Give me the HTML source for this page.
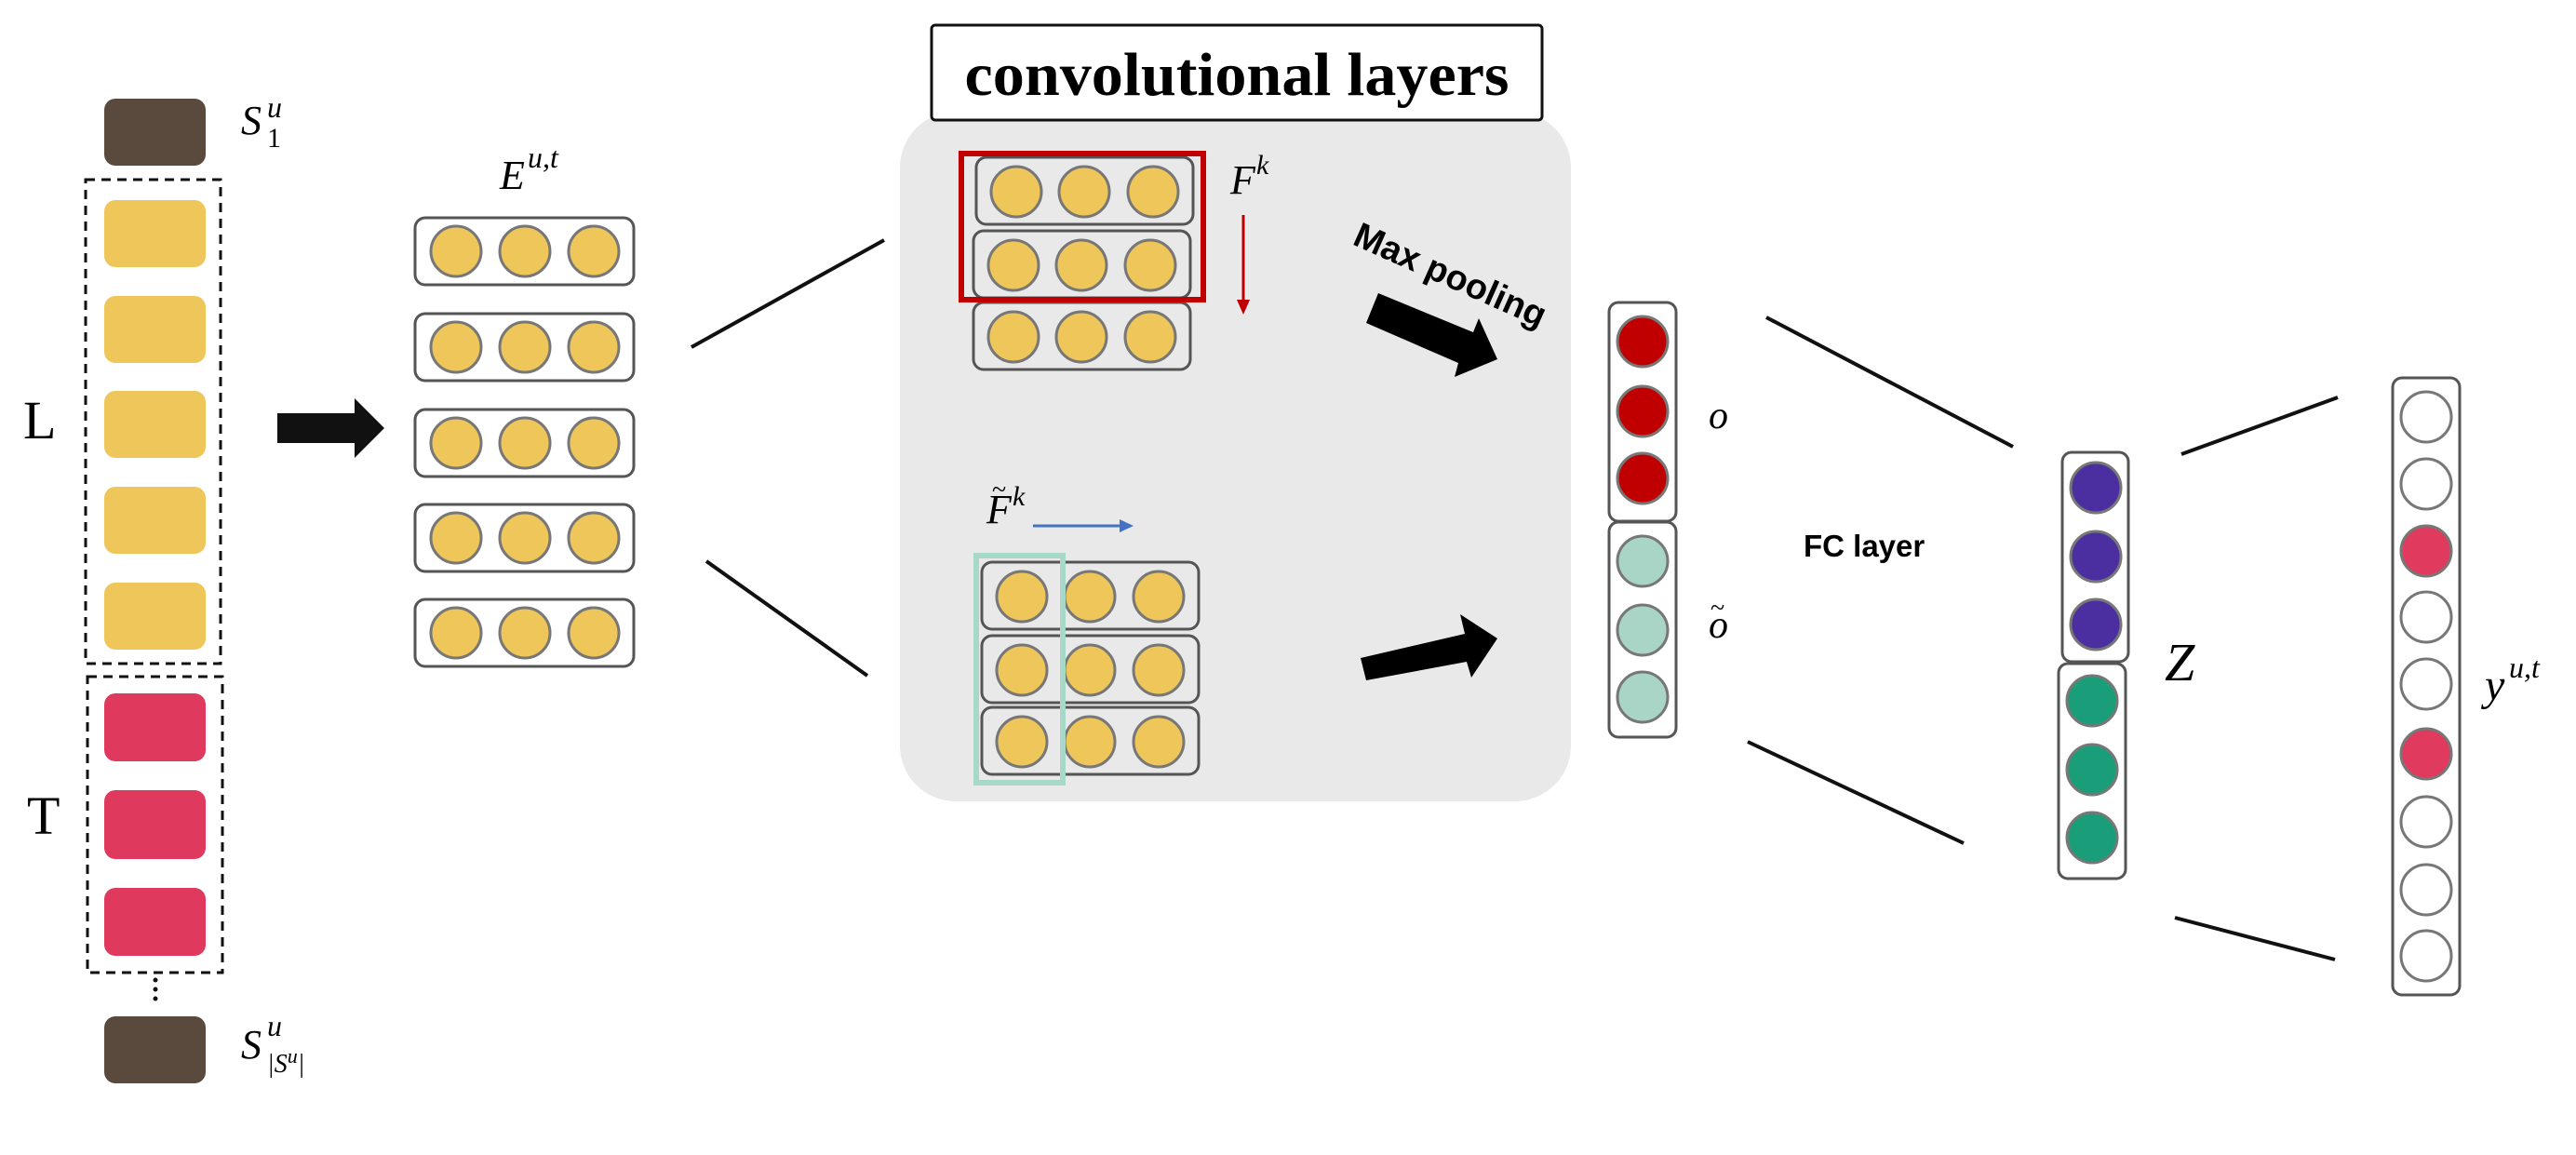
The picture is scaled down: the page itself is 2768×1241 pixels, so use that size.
<!DOCTYPE html>
<html><head><meta charset="utf-8"><style>html,body{margin:0;padding:0;background:#fff}svg{display:block}</style></head>
<body>
<svg width="2768" height="1241" viewBox="0 0 2768 1241" xmlns="http://www.w3.org/2000/svg">
<defs>
<g id="row3"><rect x="0" y="0" width="235" height="72" rx="11" fill="#fff" stroke="#555" stroke-width="3"/>
<circle cx="44" cy="36" r="27" fill="#eec65a" stroke="#777" stroke-width="3"/>
<circle cx="118" cy="36" r="27" fill="#eec65a" stroke="#777" stroke-width="3"/>
<circle cx="192" cy="36" r="27" fill="#eec65a" stroke="#777" stroke-width="3"/></g>
<g id="row3g"><rect x="0" y="0" width="233" height="72" rx="11" fill="none" stroke="#555" stroke-width="3"/>
<circle cx="43" cy="37" r="27" fill="#eec65a" stroke="#777" stroke-width="3"/>
<circle cx="116" cy="37" r="27" fill="#eec65a" stroke="#777" stroke-width="3"/>
<circle cx="190" cy="37" r="27" fill="#eec65a" stroke="#777" stroke-width="3"/></g>
</defs>
<!-- left column -->
<rect x="112" y="106" width="109" height="72" rx="12" fill="#5a4a3e"/>
<rect x="92" y="193" width="145" height="520" fill="none" stroke="#111" stroke-width="3" stroke-dasharray="10,7"/>
<g fill="#eec65a">
<rect x="112" y="215" width="109" height="72" rx="12"/>
<rect x="112" y="318" width="109" height="72" rx="12"/>
<rect x="112" y="420" width="109" height="72" rx="12"/>
<rect x="112" y="523" width="109" height="72" rx="12"/>
<rect x="112" y="626" width="109" height="72" rx="12"/>
</g>
<rect x="94" y="727" width="145" height="318" fill="none" stroke="#111" stroke-width="3" stroke-dasharray="10,7"/>
<g fill="#e0395e">
<rect x="112" y="745" width="109" height="73" rx="12"/>
<rect x="112" y="849" width="109" height="74" rx="12"/>
<rect x="112" y="954" width="109" height="73" rx="12"/>
</g>
<g fill="#111"><circle cx="167" cy="1053" r="2.5"/><circle cx="167" cy="1063" r="2.5"/><circle cx="167" cy="1073" r="2.5"/></g>
<rect x="112" y="1092" width="109" height="72" rx="12" fill="#5a4a3e"/>
<text x="25" y="471" font-family="Liberation Serif, serif" font-size="58">L</text>
<text x="29" y="896" font-family="Liberation Serif, serif" font-size="58">T</text>
<text x="259" y="144" font-family="Liberation Serif, serif" font-style="italic" font-size="44">S</text>
<text x="287" y="158" font-family="Liberation Serif, serif" font-size="30">1</text>
<text x="287" y="126" font-family="Liberation Serif, serif" font-style="italic" font-size="32">u</text>
<text x="259" y="1137" font-family="Liberation Serif, serif" font-style="italic" font-size="44">S</text>
<text x="287" y="1113" font-family="Liberation Serif, serif" font-style="italic" font-size="32">u</text>
<text x="287" y="1152" font-family="Liberation Serif, serif" font-style="italic" font-size="28">|S<tspan font-size="22" dy="-10">u</tspan><tspan dy="10">|</tspan></text>
<!-- big arrow -->
<polygon points="298,444 381,444 381,428 413,460 381,492 381,476 298,476" fill="#111"/>
<!-- E -->
<text x="537" y="203" font-family="Liberation Serif, serif" font-style="italic" font-size="44">E</text>
<text x="567" y="180" font-family="Liberation Serif, serif" font-style="italic" font-size="32">u,t</text>
<use href="#row3" x="446" y="234"/>
<use href="#row3" x="446" y="337"/>
<use href="#row3" x="446" y="440"/>
<use href="#row3" x="446" y="542"/>
<use href="#row3" x="446" y="644"/>
<g stroke="#111" stroke-width="4">
<line x1="743" y1="373" x2="950" y2="258"/>
<line x1="759" y1="603" x2="932" y2="726"/>
<line x1="1898" y1="341" x2="2163" y2="480"/>
<line x1="1878" y1="797" x2="2110" y2="906"/>
<line x1="2344" y1="488" x2="2512" y2="427"/>
<line x1="2337" y1="986" x2="2509" y2="1031"/>
</g>
<!-- panel -->
<rect x="967" y="120" width="721" height="741" rx="60" fill="#e9e9e9"/>
<rect x="1001" y="27" width="656" height="102" rx="4" fill="#fff" stroke="#111" stroke-width="3"/>
<text x="1329" y="102" text-anchor="middle" font-family="Liberation Serif, serif" font-weight="bold" font-size="66" textLength="585" lengthAdjust="spacingAndGlyphs">convolutional layers</text>
<use href="#row3g" x="1049" y="169"/>
<use href="#row3g" x="1046" y="248"/>
<use href="#row3g" x="1046" y="325"/>
<rect x="1033" y="165" width="260" height="157" fill="none" stroke="#c00000" stroke-width="6"/>
<text x="1322" y="208" font-family="Liberation Serif, serif" font-style="italic" font-size="44">F</text>
<text x="1350" y="187" font-family="Liberation Serif, serif" font-style="italic" font-size="30">k</text>
<line x1="1336" y1="231" x2="1336" y2="325" stroke="#c00000" stroke-width="3"/>
<polygon points="1329,322 1343,322 1336,338" fill="#c00000"/>
<text transform="translate(1452,262) rotate(24)" font-family="Liberation Sans, sans-serif" font-weight="bold" font-size="38">Max pooling</text>
<polygon points="1481,315 1583,357 1589,342 1609,386 1563,405 1567,390 1468,347" fill="#000"/>
<polygon points="1462,707 1574,681 1569,660 1609,686 1581,728 1576,711 1468,731" fill="#000"/>
<text x="1060" y="562" font-family="Liberation Serif, serif" font-style="italic" font-size="44">F</text>
<text x="1066" y="535" font-family="Liberation Serif, serif" font-size="28">~</text>
<text x="1088" y="543" font-family="Liberation Serif, serif" font-style="italic" font-size="30">k</text>
<line x1="1110" y1="565" x2="1205" y2="565" stroke="#4472c4" stroke-width="3"/>
<polygon points="1203,558 1218,565 1203,572" fill="#4472c4"/>
<use href="#row3g" x="1055" y="604"/>
<use href="#row3g" x="1055" y="683"/>
<use href="#row3g" x="1055" y="760"/>
<rect x="1049" y="597" width="93" height="244" fill="none" stroke="#a8d8c8" stroke-width="6"/>
<!-- o column -->
<rect x="1729" y="325" width="72" height="235" rx="10" fill="#fff" stroke="#555" stroke-width="3"/>
<rect x="1729" y="561" width="72" height="231" rx="10" fill="#fff" stroke="#555" stroke-width="3"/>
<g stroke="#777" stroke-width="3">
<circle cx="1765" cy="367" r="27" fill="#c00000"/><circle cx="1765" cy="442" r="27" fill="#c00000"/><circle cx="1765" cy="514" r="27" fill="#c00000"/>
<circle cx="1765" cy="603" r="27" fill="#a8d5c5"/><circle cx="1765" cy="677" r="27" fill="#a8d5c5"/><circle cx="1765" cy="749" r="27" fill="#a8d5c5"/>
</g>
<text x="1836" y="460" font-family="Liberation Serif, serif" font-style="italic" font-size="42">o</text>
<text x="1836" y="685" font-family="Liberation Serif, serif" font-style="italic" font-size="42">o</text>
<text x="1838" y="662" font-family="Liberation Serif, serif" font-size="28">~</text>
<text x="1938" y="598" font-family="Liberation Sans, sans-serif" font-weight="bold" font-size="33">FC layer</text>
<!-- Z -->
<rect x="2216" y="486" width="71" height="225" rx="10" fill="#fff" stroke="#555" stroke-width="3"/>
<rect x="2212" y="713" width="72" height="231" rx="10" fill="#fff" stroke="#555" stroke-width="3"/>
<g stroke="#777" stroke-width="3">
<circle cx="2252" cy="524" r="27" fill="#4b2ea0"/><circle cx="2252" cy="598" r="27" fill="#4b2ea0"/><circle cx="2252" cy="671" r="27" fill="#4b2ea0"/>
<circle cx="2248" cy="753" r="27" fill="#1a9e7a"/><circle cx="2248" cy="827" r="27" fill="#1a9e7a"/><circle cx="2248" cy="900" r="27" fill="#1a9e7a"/>
</g>
<text x="2326" y="731" font-family="Liberation Serif, serif" font-style="italic" font-size="58">Z</text>
<!-- y -->
<rect x="2571" y="406" width="72" height="663" rx="10" fill="#fff" stroke="#555" stroke-width="3"/>
<g stroke="#777" stroke-width="3" fill="#fff">
<circle cx="2607" cy="448" r="27"/><circle cx="2607" cy="520" r="27"/><circle cx="2607" cy="592" r="27" fill="#e03a5e"/>
<circle cx="2607" cy="663" r="27"/><circle cx="2607" cy="735" r="27"/><circle cx="2607" cy="810" r="27" fill="#e03a5e"/>
<circle cx="2607" cy="883" r="27"/><circle cx="2607" cy="956" r="27"/><circle cx="2607" cy="1027" r="27"/>
</g>
<text x="2670" y="752" font-family="Liberation Serif, serif" font-style="italic" font-size="48">y</text>
<text x="2696" y="728" font-family="Liberation Serif, serif" font-style="italic" font-size="32">u,t</text>
</svg>
</body></html>
